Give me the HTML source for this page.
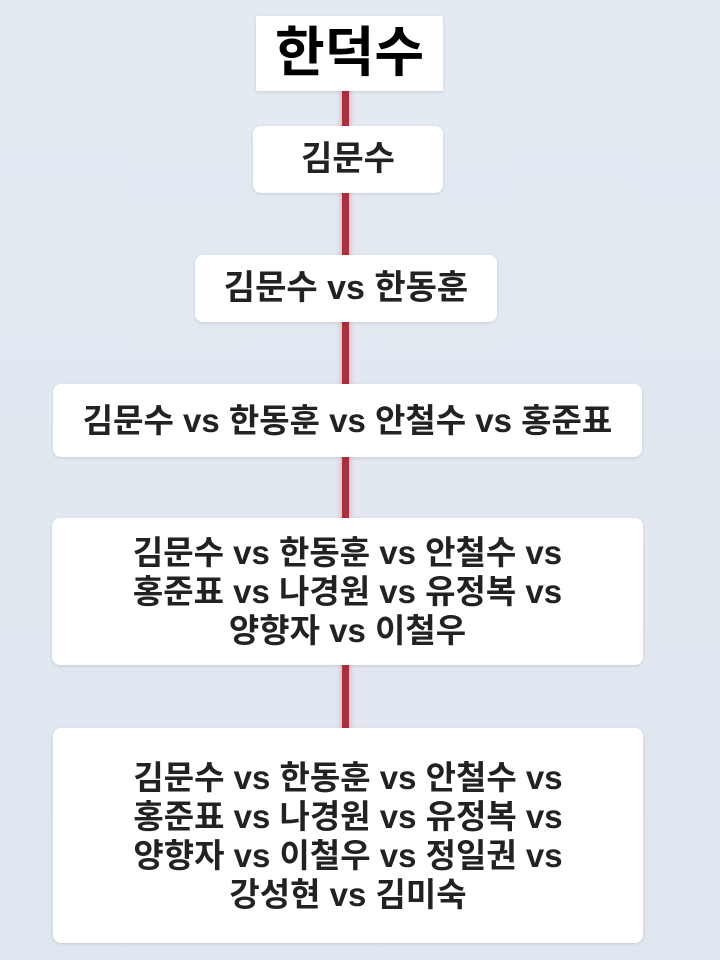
<!DOCTYPE html>
<html><head><meta charset="utf-8"><style>
body{margin:0;width:720px;height:960px;background:linear-gradient(#e4eaf2,#dfe6ef);position:relative;overflow:hidden;font-family:"Liberation Sans","Noto Sans CJK KR","NanumGothic",sans-serif;}
.line{position:absolute;left:342px;width:7px;top:85px;height:660px;background:#a8303f;box-shadow:0 0 4px 2px rgba(230,120,140,.4);}
.b{position:absolute;background:#fff;border-radius:8px;box-shadow:0 1px 3px rgba(0,0,0,.12);display:flex;align-items:center;justify-content:center;text-align:center;font-weight:bold;color:#222;font-size:33px;line-height:39px;}
</style></head><body>
<div class="line"></div>
<div class="b" style="left:256px;top:16px;width:187px;height:75px;border-radius:2px;font-size:54px;color:#000;">한덕수</div>
<div class="b" style="left:253px;top:126px;width:190px;height:67px;font-size:34px;">김문수</div>
<div class="b" style="left:195px;top:255px;width:302px;height:67px;font-size:34px;">김문수 vs 한동훈</div>
<div class="b" style="left:53px;top:384px;width:589px;height:73px;">김문수 vs 한동훈 vs 안철수 vs 홍준표</div>
<div class="b" style="left:52px;top:518px;width:591px;height:147px;">김문수 vs 한동훈 vs 안철수 vs<br>홍준표 vs 나경원 vs 유정복 vs<br>양향자 vs 이철우</div>
<div class="b" style="left:53px;top:728px;width:590px;height:215px;">김문수 vs 한동훈 vs 안철수 vs<br>홍준표 vs 나경원 vs 유정복 vs<br>양향자 vs 이철우 vs 정일권 vs<br>강성현 vs 김미숙</div>
</body></html>
